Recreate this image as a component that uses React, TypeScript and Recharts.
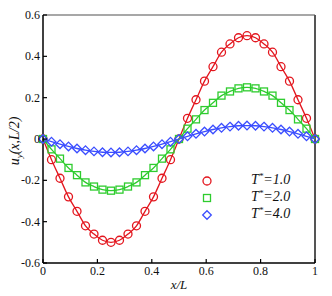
import React from 'react';
import { LineChart, Line, XAxis, YAxis, ReferenceLine } from 'recharts';

// x/L sample positions (every 1/32)
const xPos = [
  0, 0.03125, 0.0625, 0.09375, 0.125, 0.15625, 0.1875, 0.21875, 0.25, 0.28125, 0.3125,
  0.34375, 0.375, 0.40625, 0.4375, 0.46875, 0.5, 0.53125, 0.5625, 0.59375, 0.625, 0.65625,
  0.6875, 0.71875, 0.75, 0.78125, 0.8125, 0.84375, 0.875, 0.90625, 0.9375, 0.96875, 1,
];

// u_y(x, L/2)
const uT1 = [
  0, -0.1, -0.19, -0.28, -0.35, -0.42, -0.46, -0.49, -0.5, -0.49, -0.46, -0.42, -0.35, -0.28,
  -0.19, -0.1, 0, 0.1, 0.19, 0.28, 0.35, 0.42, 0.46, 0.49, 0.5, 0.49, 0.46, 0.42, 0.35, 0.28,
  0.19, 0.1, 0,
];
const uT2 = [
  0, -0.05, -0.095, -0.14, -0.175, -0.21, -0.23, -0.245, -0.25, -0.245, -0.23, -0.21, -0.175,
  -0.14, -0.095, -0.05, 0, 0.05, 0.095, 0.14, 0.175, 0.21, 0.23, 0.245, 0.25, 0.245, 0.23, 0.21,
  0.175, 0.14, 0.095, 0.05, 0,
];
const uT4 = [
  0, -0.013, -0.025, -0.036, -0.046, -0.054, -0.06, -0.064, -0.065, -0.064, -0.06, -0.054,
  -0.046, -0.036, -0.025, -0.013, 0, 0.013, 0.025, 0.036, 0.046, 0.054, 0.06, 0.064, 0.065,
  0.064, 0.06, 0.054, 0.046, 0.036, 0.025, 0.013, 0,
];

const xTicks = [0, 0.2, 0.4, 0.6, 0.8, 1];
const yTicks = [-0.6, -0.4, -0.2, 0, 0.2, 0.4, 0.6];
const seriesLabels = ['1.0', '2.0', '4.0'];

const RED = '#e3161e';
const GREEN = '#2ecc2e';
const BLUE = '#3a4dff';
const FONT = '"Liberation Serif", "DejaVu Serif", serif';

const rows = xPos.map((x, i) => ({ x, t1: uT1[i], t2: uT2[i], t4: uT4[i] }));

type DotProps = { cx?: number; cy?: number; index?: number };

function CircleDot({ cx, cy, index }: DotProps) {
  if (cx == null || cy == null) return null;
  return <circle key={index} cx={cx} cy={cy} r={4} fill="none" stroke={RED} strokeWidth={1.3} />;
}

function SquareDot({ cx, cy, index }: DotProps) {
  if (cx == null || cy == null) return null;
  return (
    <rect key={index} x={cx - 3.5} y={cy - 3.5} width={7} height={7} fill="none" stroke={GREEN} strokeWidth={1.3} />
  );
}

function DiamondDot({ cx, cy, index }: DotProps) {
  if (cx == null || cy == null) return null;
  const d = 4.3;
  return (
    <path
      key={index}
      d={`M${cx},${cy - d}L${cx + d},${cy}L${cx},${cy + d}L${cx - d},${cy}Z`}
      fill="none"
      stroke={BLUE}
      strokeWidth={1.3}
    />
  );
}

type TickProps = { x?: number; y?: number; payload?: { value: number } };

function XTick({ x = 0, y = 0, payload }: TickProps) {
  const v = payload?.value ?? 0;
  return (
    <g>
      <line x1={x} y1={y} x2={x} y2={y - 4} stroke="#000" strokeWidth={1.2} />
      <text x={x} y={y + 12} textAnchor="middle" fontFamily={FONT} fontSize={12} fill="#111">
        {String(v)}
      </text>
    </g>
  );
}

function YTick({ x = 0, y = 0, payload }: TickProps) {
  const v = payload?.value ?? 0;
  return (
    <g>
      <line x1={x} y1={y} x2={x + 4} y2={y} stroke="#000" strokeWidth={1.2} />
      <text x={x - 3} y={y + 4} textAnchor="end" fontFamily={FONT} fontSize={12} fill="#111">
        {String(v)}
      </text>
    </g>
  );
}

function YLabel({ viewBox }: { viewBox?: { x: number; y: number; width: number; height: number } }) {
  const vb = viewBox ?? { x: 0, y: 15, width: 43, height: 248 };
  const cx = 19;
  const cy = vb.y + vb.height / 2 + 2;
  return (
    <text
      x={cx}
      y={cy}
      transform={`rotate(-90, ${cx}, ${cy})`}
      textAnchor="middle"
      fontFamily={FONT}
      fontStyle="italic"
      fontSize={14}
      fill="#111"
    >
      <tspan>u</tspan>
      <tspan fontSize={9} dy={3}>y</tspan>
      <tspan dy={-3}>(x,L/2)</tspan>
    </text>
  );
}

function XLabel({ viewBox }: { viewBox?: { x: number; y: number; width: number; height: number } }) {
  const vb = viewBox ?? { x: 43, y: 263, width: 272, height: 33 };
  return (
    <text
      x={vb.x + vb.width / 2}
      y={vb.y + 26}
      textAnchor="middle"
      fontFamily={FONT}
      fontStyle="italic"
      fontSize={13}
      fill="#111"
    >
      x/L
    </text>
  );
}

function LegendMarker({ kind }: { kind: number }) {
  return (
    <svg width={14} height={14} style={{ display: 'block' }}>
      {kind === 0 && <circle cx={7} cy={7} r={4} fill="none" stroke={RED} strokeWidth={1.3} />}
      {kind === 1 && <rect x={3.5} y={3.5} width={7} height={7} fill="none" stroke={GREEN} strokeWidth={1.3} />}
      {kind === 2 && <path d="M7,2.7L11.3,7L7,11.3L2.7,7Z" fill="none" stroke={BLUE} strokeWidth={1.3} />}
    </svg>
  );
}

function ChartLegend() {
  return (
    <div style={{ position: 'absolute', left: 200, top: 172, fontFamily: FONT }}>
      {seriesLabels.map((s, i) => (
        <div key={s} style={{ display: 'flex', alignItems: 'center', height: 17 }}>
          <LegendMarker kind={i} />
          <span style={{ marginLeft: 37, fontStyle: 'italic', fontSize: 14, color: '#111', lineHeight: '17px' }}>
            T<span style={{ fontSize: 9, position: 'relative', top: -5 }}>*</span>={s}
          </span>
        </div>
      ))}
    </div>
  );
}

export default function App() {
  return (
    <div style={{ position: 'absolute', left: 0, top: 0, width: 332, height: 296, background: '#fff' }}>
      <LineChart width={332} height={296} data={rows} margin={{ top: 15, right: 17, bottom: 0, left: 0 }}>
        <XAxis
          dataKey="x"
          type="number"
          domain={[0, 1]}
          ticks={xTicks}
          height={33}
          tickSize={0}
          tickMargin={0}
          tickLine={false}
          tick={<XTick />}
          axisLine={{ stroke: '#000', strokeWidth: 1.5 }}
          label={<XLabel />}
        />
        <YAxis
          type="number"
          domain={[-0.6, 0.6]}
          ticks={yTicks}
          width={43}
          tickSize={0}
          tickMargin={0}
          tickLine={false}
          tick={<YTick />}
          axisLine={{ stroke: '#000', strokeWidth: 1.5 }}
          label={<YLabel />}
        />
        <ReferenceLine y={0.6} stroke="#8a8a8a" strokeWidth={1.5} />
        <ReferenceLine x={1} stroke="#555" strokeWidth={2} />
        <Line
          dataKey="t1"
          type="monotone"
          stroke={RED}
          strokeWidth={1.3}
          dot={<CircleDot />}
          activeDot={false}
          isAnimationActive={false}
        />
        <Line
          dataKey="t2"
          type="monotone"
          stroke={GREEN}
          strokeWidth={1.3}
          dot={<SquareDot />}
          activeDot={false}
          isAnimationActive={false}
        />
        <Line
          dataKey="t4"
          type="monotone"
          stroke={BLUE}
          strokeWidth={1.3}
          dot={<DiamondDot />}
          activeDot={false}
          isAnimationActive={false}
        />
      </LineChart>
      <ChartLegend />
    </div>
  );
}
